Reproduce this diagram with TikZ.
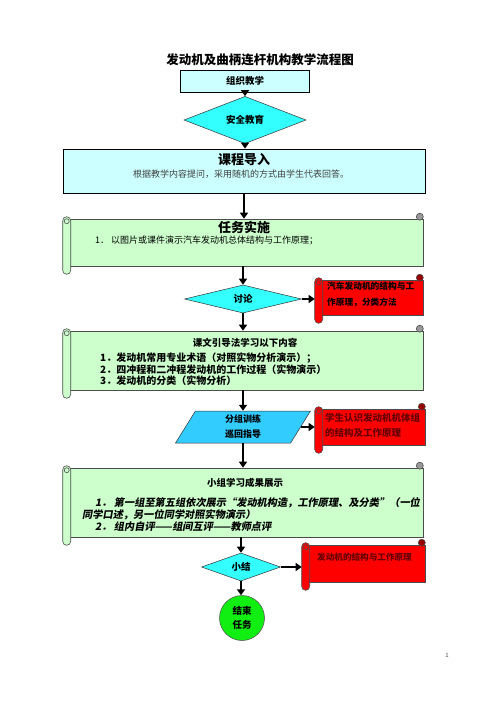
\documentclass[tikz,border=0pt]{standalone}
\usepackage{fontspec}
\setmainfont{Noto Sans CJK SC}
\newfontfamily\slantfont{Noto Sans CJK SC}[FakeSlant=0.18]
\usetikzlibrary{arrows.meta,shapes.geometric,calc}

\definecolor{boxcyan}{HTML}{CCFFFF}
\definecolor{diacyan}{HTML}{33FFFF}
\definecolor{parablue}{HTML}{33CCFF}
\definecolor{scrollgreen}{HTML}{CCFFCC}
\definecolor{scrollred}{HTML}{FF0000}
\definecolor{curlred}{HTML}{990000}
\definecolor{notered}{HTML}{660000}
\definecolor{endgreen}{HTML}{11EE11}

\tikzset{
  flow box/.style={
    draw=black,
    line width=0.8pt,
    fill=boxcyan,
    inner sep=0pt
  },
  flow diamond/.style={
    diamond,
    draw=black!80,
    line width=0.5pt,
    fill=diacyan,
    inner sep=0pt,
    font=\bfseries\fontsize{9.5}{11}\selectfont
  },
  flow arrow/.style={
    line width=2.4pt,
    -{Triangle[length=6pt,width=8pt]}
  },
  scroll body/.style={
    draw=black!70,
    line width=0.6pt,
    inner sep=0pt
  },
  scroll title/.style={
    inner sep=0pt,
    font=\bfseries\fontsize{13}{15}\selectfont
  },
  scroll text/.style={
    anchor=west,
    inner sep=0pt,
    font=\fontsize{9}{11}\selectfont
  },
  note text/.style={
    anchor=north west,
    inner sep=0pt,
    align=left,
    font=\bfseries\fontsize{8.7}{16}\selectfont
  }
}

% 卷轴两端：节点名，底色，卷边色
\newcommand{\scrollrolls}[3]{%
  \draw[scroll body, fill=#2, rounded corners=4pt]
    ($(#1.north west)+(-4,-2)$) rectangle ($(#1.south west)+(4,8)$);
  \draw[scroll body, fill=#2] ($(#1.north west)+(0,2.5)$) circle (2.5pt);
  \draw[scroll body, fill=#3] ($(#1.north east)+(-3.5,-2)$) circle (3.5pt);
}

\begin{document}
\begin{tikzpicture}[x=1pt,y=-1pt]
  \useasboundingbox (0,0) rectangle (496,702);

  % 标题
  \node[font=\bfseries\fontsize{12.5}{15}\selectfont] (title) at (260,60) {发动机及曲柄连杆机构教学流程图};

  % 组织教学、安全教育
  \node[flow box, minimum width=129, minimum height=22, font=\bfseries\fontsize{9.5}{11}\selectfont] (org) at (245,81) {组织教学};
  \node[flow diamond, minimum width=122, minimum height=26] (safe) at (245,120) {安全教育};

  % 课程导入
  \node[flow box, minimum width=362, minimum height=44] (intro) at (244,171) {};
  \node[scroll title] (introT) at (244,160) {课程导入};
  \node[inner sep=0pt, text=black!75, font=\fontsize{9}{11}\selectfont] (introS) at (241,174) {根据教学内容提问，采用随机的方式由学生代表回答。};

  % 任务实施
  \node[scroll body, fill=scrollgreen, minimum width=356, minimum height=47] (task) at (245,242.5) {};
  \scrollrolls{task}{scrollgreen}{black!40}
  \node[scroll title] (taskT) at (244,227) {任务实施};
  \node[scroll text] (taskL) at (95,240) {1．\ 以图片或课件演示汽车发动机总体结构与工作原理；};

  % 讨论
  \node[flow diamond, minimum width=117, minimum height=25] (talk) at (243,299) {讨论};
  \node[scroll body, fill=scrollred, minimum width=104, minimum height=35] (note1) at (371,297.5) {};
  \scrollrolls{note1}{scrollred}{curlred}
  \node[note text] (note1T) at (327,282) {汽车发动机的结构与工\\作原理，分类方法};

  % 课文引导
  \node[scroll body, fill=scrollgreen, minimum width=356, minimum height=59] (guide) at (245,360.5) {};
  \scrollrolls{guide}{scrollgreen}{black!40}
  \node[inner sep=0pt, font=\bfseries\fontsize{9.5}{11}\selectfont] (guideT) at (245,343) {课文引导法学习以下内容};
  \node[scroll text, font=\bfseries\fontsize{10}{11}\selectfont] (guideA) at (100,358) {1．发动机常用专业术语（对照实物分析演示）；};
  \node[scroll text, font=\bfseries\fontsize{10}{11}\selectfont] (guideB) at (100,369.5) {2．四冲程和二冲程发动机的工作过程（实物演示）};
  \node[scroll text, font=\bfseries\fontsize{10}{11}\selectfont] (guideC) at (100,381) {3．发动机的分类（实物分析）};

  % 分组训练
  \node[trapezium, trapezium left angle=50, trapezium right angle=130, trapezium stretches body,
        draw=black!80, line width=0.5pt, fill=parablue, minimum width=135, minimum height=32, inner sep=0pt,
        align=center, font=\bfseries\fontsize{9}{15}\selectfont] (drill) at (243,427) {分组训练\\巡回指导};
  \node[scroll body, fill=scrollred, minimum width=106, minimum height=36] (note2) at (372,427) {};
  \scrollrolls{note2}{scrollred}{curlred}
  \node[note text, text=notered, font=\bfseries\fontsize{9.5}{15}\selectfont] (note2T) at (325,413) {学生认识发动机机体组\\的结构及工作原理};

  % 小组学习成果展示
  \node[scroll body, fill=scrollgreen, minimum width=356, minimum height=69] (group) at (245,502.5) {};
  \scrollrolls{group}{scrollgreen}{black!40}
  \node[inner sep=0pt, font=\bfseries\fontsize{9.5}{11}\selectfont] (groupT) at (245,483) {小组学习成果展示};
  \node[scroll text, font=\slantfont\bfseries\fontsize{10.2}{11}\selectfont] (groupA) at (95,503) {1．\ 第一组至第五组依次展示“发动机构造，工作原理、及分类”（一位};
  \node[scroll text, font=\slantfont\bfseries\fontsize{10.2}{11}\selectfont] (groupB) at (82,515) {同学口述，另一位同学对照实物演示）};
  \node[scroll text, font=\slantfont\bfseries\fontsize{10.2}{11}\selectfont] (groupC) at (95,527) {2．\ 组内自评——组间互评——教师点评};

  % 小结
  \node[flow diamond, minimum width=79, minimum height=26] (sum) at (241,567) {小结};
  \node[scroll body, fill=scrollred, minimum width=119, minimum height=37] (note3) at (365.5,563.5) {};
  \scrollrolls{note3}{scrollred}{curlred}
  \node[note text, text=notered, font=\bfseries\fontsize{8.6}{15}\selectfont] (note3T) at (317,553) {发动机的结构与工作原理};

  % 结束
  \node[circle, draw=black!70, line width=0.5pt, fill=endgreen, minimum size=45, inner sep=0pt,
        align=center, font=\bfseries\fontsize{9.5}{14}\selectfont] (finish) at (242,618) {结束\\任务};

  % 页码
  \node[inner sep=0pt, text=black!70, font=\fontsize{6}{7}\selectfont] (page) at (447,655) {1};

  % 箭头
  \draw[flow arrow] (org.south) -- (org.south |- safe.north);
  \draw[flow arrow] (safe.south) -- (safe.south |- intro.north);
  \draw[flow arrow] (intro.south) -- (intro.south |- task.north);
  \draw[flow arrow] (talk.north |- task.south) -- (talk.north);
  \draw[flow arrow] (talk.east) -- ($(talk.east -| note1.west)+(-4,0)$);
  \draw[flow arrow] (talk.south) -- (talk.south |- guide.north);
  \draw[flow arrow] (drill.north |- guide.south) -- (drill.north);
  \draw[flow arrow] (drill.east) -- ($(drill.east -| note2.west)+(-4,0)$);
  \draw[flow arrow] (drill.south) -- (drill.south |- group.north);
  \draw[flow arrow] (sum.north |- group.south) -- (sum.north);
  \draw[flow arrow] (sum.east) -- ($(sum.east -| note3.west)+(-4,0)$);
  \draw[flow arrow] (sum.south) -- (sum.south |- finish.north);
\end{tikzpicture}
\end{document}
